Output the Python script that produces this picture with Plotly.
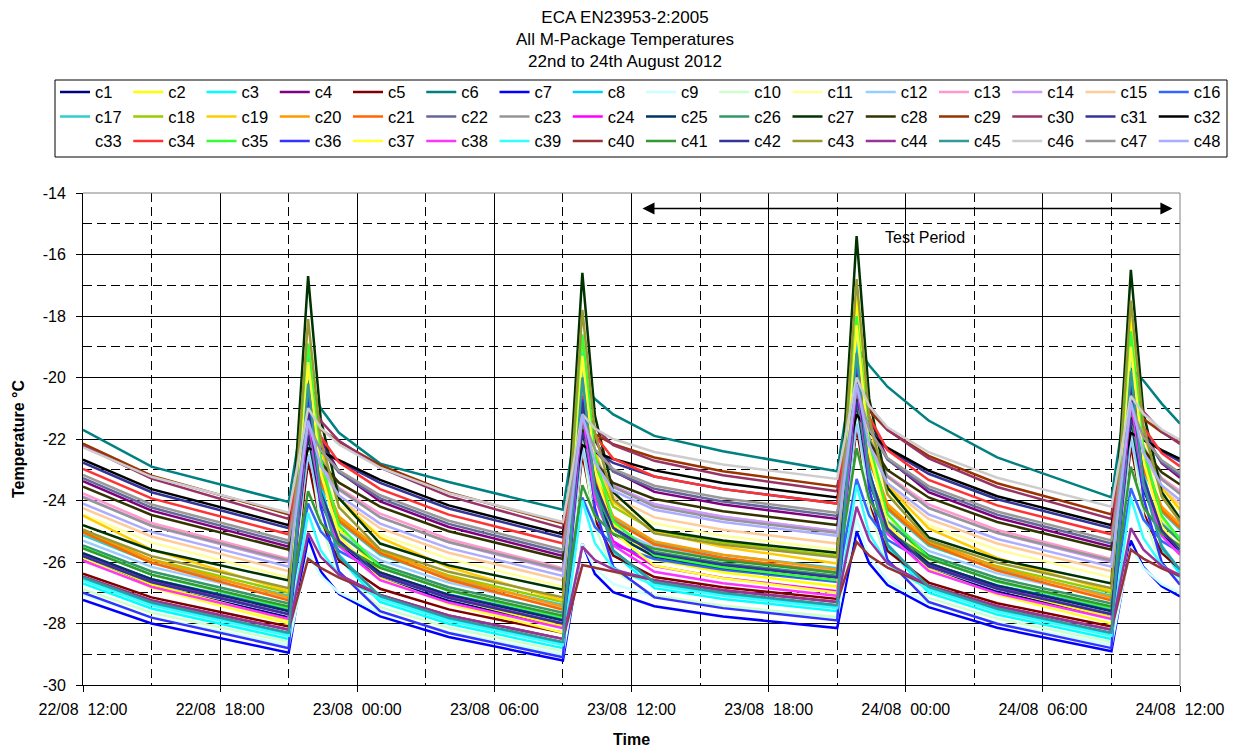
import plotly.graph_objects as go

# ---------------- data ----------------
times = ["2012-08-22 12:00", "2012-08-22 15:00", "2012-08-22 21:00", "2012-08-22 21:51",
         "2012-08-22 22:24", "2012-08-22 23:12", "2012-08-23 01:00", "2012-08-23 04:00",
         "2012-08-23 09:00", "2012-08-23 09:51", "2012-08-23 10:24", "2012-08-23 11:12",
         "2012-08-23 13:00", "2012-08-23 16:00", "2012-08-23 21:00", "2012-08-23 21:51",
         "2012-08-23 22:24", "2012-08-23 23:12", "2012-08-24 01:00", "2012-08-24 04:00",
         "2012-08-24 09:00", "2012-08-24 09:51", "2012-08-24 10:24", "2012-08-24 11:12",
         "2012-08-24 12:00"]

c1 = [-25.91, -26.76, -27.8, -21.2, -23.87, -25.43, -26.54, -27.27, -28.1, -21.0, -23.52, -24.92, -25.72, -26.09, -26.5, -19.8, -23.11, -25.0, -26.24, -26.97, -27.8, -20.5, -23.4, -25.08, -25.71]
c2 = [-25.77, -26.73, -27.9, -18.9, -22.73, -24.92, -26.33, -27.16, -28.1, -18.7, -22.64, -24.78, -25.92, -26.33, -26.8, -17.4, -21.92, -24.47, -26.03, -26.86, -27.8, -18.0, -22.18, -24.55, -25.38]
c3 = [-26.7, -27.51, -28.5, -19.0, -23.41, -25.87, -27.3, -28.01, -28.8, -19.2, -23.43, -25.71, -26.85, -27.2, -27.6, -18.3, -22.94, -25.52, -27.0, -27.71, -28.5, -18.6, -23.07, -25.56, -26.39]
c4 = [-23.37, -24.33, -25.5, -20.4, -22.02, -23.07, -24.03, -24.86, -25.8, -20.3, -22.04, -23.04, -23.72, -24.13, -24.6, -19.1, -21.3, -22.65, -23.73, -24.56, -25.5, -20.2, -21.77, -22.79, -23.26]
c5 = [-26.38, -27.15, -28.1, -22.7, -24.73, -25.95, -26.87, -27.54, -28.3, -22.5, -24.62, -25.79, -26.49, -26.82, -27.2, -21.6, -24.15, -25.64, -26.67, -27.34, -28.1, -22.2, -24.4, -25.71, -26.23]
c6 = [-21.7, -22.9, -24.05, -20.1, -21.0, -21.8, -22.8, -23.4, -24.3, -20.2, -20.7, -21.2, -21.9, -22.4, -23.05, -19.0, -19.6, -20.3, -21.4, -22.6, -23.9, -19.7, -20.1, -20.85, -21.5]
c7 = [-27.23, -28.0, -28.95, -25.2, -26.3, -27.04, -27.77, -28.44, -29.2, -25.4, -26.39, -26.98, -27.44, -27.77, -28.15, -25.0, -26.04, -26.75, -27.47, -28.14, -28.9, -25.3, -26.17, -26.79, -27.12]
c8 = [-26.55, -27.36, -28.35, -19.3, -23.45, -25.77, -27.15, -27.86, -28.65, -19.5, -23.47, -25.62, -26.7, -27.05, -27.45, -18.6, -22.98, -25.42, -26.85, -27.56, -28.35, -19.0, -23.15, -25.47, -26.26]
c9 = [-27.06, -27.8, -28.7, -25.7, -26.45, -27.0, -27.64, -28.28, -29.0, -25.4, -26.21, -26.71, -27.12, -27.44, -27.8, -24.6, -25.82, -26.61, -27.34, -27.98, -28.7, -25.5, -26.2, -26.72, -27.01]
c10 = [-26.88, -27.65, -28.6, -22.0, -24.78, -26.39, -27.47, -28.14, -28.9, -22.2, -24.84, -26.28, -27.09, -27.42, -27.8, -21.2, -24.27, -26.03, -27.17, -27.84, -28.6, -21.8, -24.53, -26.11, -26.69]
c11 = [-24.45, -25.37, -26.5, -21.5, -23.12, -24.16, -25.1, -25.9, -26.8, -21.3, -23.07, -24.08, -24.75, -25.15, -25.6, -20.4, -22.49, -23.77, -24.8, -25.6, -26.5, -21.0, -22.74, -23.84, -24.33]
c12 = [-25.31, -26.16, -27.2, -22.5, -24.07, -25.06, -25.94, -26.67, -27.5, -22.3, -23.95, -24.9, -25.52, -25.89, -26.3, -21.5, -23.47, -24.67, -25.64, -26.37, -27.2, -22.0, -23.68, -24.73, -25.19]
c13 = [-23.77, -24.73, -25.9, -21.8, -22.84, -23.59, -24.43, -25.26, -26.2, -21.7, -22.86, -23.56, -24.12, -24.53, -25.0, -20.6, -22.17, -23.19, -24.13, -24.96, -25.9, -21.3, -22.46, -23.27, -23.69]
c14 = [-23.87, -24.83, -26.0, -21.6, -22.82, -23.66, -24.53, -25.36, -26.3, -21.4, -22.73, -23.52, -24.12, -24.53, -25.0, -20.2, -22.06, -23.23, -24.23, -25.06, -26.0, -21.0, -22.39, -23.32, -23.77]
c15 = [-24.25, -25.17, -26.3, -21.2, -22.88, -23.95, -24.9, -25.7, -26.6, -21.0, -22.83, -23.87, -24.55, -24.95, -25.4, -19.9, -22.16, -23.53, -24.6, -25.4, -26.3, -20.6, -22.46, -23.62, -24.12]
c16 = [-25.75, -26.56, -27.55, -24.1, -25.0, -25.64, -26.35, -27.06, -27.85, -23.9, -24.86, -25.44, -25.9, -26.25, -26.65, -23.3, -24.49, -25.28, -26.05, -26.76, -27.55, -23.6, -24.62, -25.32, -25.68]
c17 = [-25.13, -26.02, -27.1, -20.9, -23.28, -24.7, -25.77, -26.54, -27.4, -20.8, -23.24, -24.6, -25.38, -25.77, -26.2, -19.7, -22.6, -24.29, -25.47, -26.24, -27.1, -20.3, -22.85, -24.36, -24.95]
c18 = [-25.03, -25.92, -27.0, -20.5, -23.05, -24.56, -25.67, -26.44, -27.3, -20.4, -22.84, -24.2, -24.98, -25.37, -25.8, -19.4, -22.42, -24.17, -25.37, -26.14, -27.0, -20.0, -22.67, -24.24, -24.85]
c19 = [-24.49, -25.6, -26.95, -19.7, -22.34, -23.94, -25.21, -26.17, -27.25, -19.4, -22.39, -24.05, -25.03, -25.51, -26.05, -18.3, -21.58, -23.51, -24.91, -25.87, -26.95, -18.9, -21.83, -23.58, -24.29]
c20 = [-24.94, -25.93, -27.15, -21.0, -23.18, -24.52, -25.61, -26.48, -27.45, -20.8, -23.18, -24.52, -25.33, -25.76, -26.25, -19.8, -22.5, -24.11, -25.31, -26.18, -27.15, -20.5, -22.79, -24.2, -24.78]
c21 = [-25.04, -26.03, -27.25, -21.4, -23.4, -24.66, -25.71, -26.58, -27.55, -21.2, -23.4, -24.65, -25.43, -25.86, -26.35, -20.2, -22.72, -24.25, -25.41, -26.28, -27.25, -20.8, -22.98, -24.32, -24.89]
c22 = [-23.27, -24.23, -25.4, -21.3, -22.34, -23.09, -23.93, -24.76, -25.7, -21.2, -22.36, -23.06, -23.62, -24.03, -24.5, -20.0, -21.62, -22.67, -23.63, -24.46, -25.4, -20.7, -21.92, -22.76, -23.19]
c23 = [-23.9, -24.82, -25.95, -21.1, -22.64, -23.63, -24.55, -25.35, -26.25, -21.0, -22.62, -23.56, -24.2, -24.6, -25.05, -19.9, -21.96, -23.22, -24.25, -25.05, -25.95, -20.6, -22.25, -23.31, -23.79]
c24 = [-25.73, -26.62, -27.7, -21.6, -23.92, -25.31, -26.37, -27.14, -28.0, -21.4, -23.92, -25.33, -26.13, -26.52, -26.95, -20.5, -23.28, -24.91, -26.07, -26.84, -27.7, -21.0, -23.49, -24.97, -25.56]
c25 = [-25.71, -26.56, -27.6, -21.9, -24.05, -25.34, -26.34, -27.07, -27.9, -21.7, -23.88, -25.09, -25.82, -26.19, -26.6, -20.8, -23.41, -24.94, -26.04, -26.77, -27.6, -21.4, -23.66, -25.01, -25.55]
c26 = [-25.46, -26.31, -27.35, -21.7, -23.82, -25.09, -26.09, -26.82, -27.65, -21.5, -23.7, -24.93, -25.67, -26.04, -26.45, -20.6, -23.18, -24.7, -25.79, -26.52, -27.35, -21.2, -23.43, -24.77, -25.31]
c27 = [-24.8, -25.61, -26.6, -16.7, -21.34, -23.92, -25.4, -26.11, -26.9, -16.6, -21.24, -23.73, -24.95, -25.3, -25.7, -15.4, -20.68, -23.59, -25.2, -25.91, -26.7, -16.5, -21.14, -23.72, -24.58]
c28 = [-23.55, -24.47, -25.6, -21.9, -22.77, -23.42, -24.2, -25.0, -25.9, -21.7, -22.77, -23.43, -23.95, -24.35, -24.8, -20.7, -22.09, -23.01, -23.9, -24.7, -25.6, -21.3, -22.34, -23.08, -23.48]
c29 = [-22.15, -23.19, -24.45, -21.3, -21.68, -22.09, -22.85, -23.74, -24.75, -21.4, -21.84, -22.17, -22.6, -23.05, -23.55, -20.3, -21.08, -21.71, -22.55, -23.44, -24.45, -20.9, -21.34, -21.78, -22.12]
c30 = [-22.22, -23.29, -24.6, -20.6, -21.41, -22.06, -22.93, -23.86, -24.9, -20.8, -21.64, -22.2, -22.71, -23.18, -23.7, -19.8, -20.9, -21.7, -22.63, -23.56, -24.6, -20.3, -21.11, -21.76, -22.16]
c31 = [-22.77, -23.73, -24.9, -21.9, -22.31, -22.73, -23.43, -24.26, -25.2, -21.8, -22.38, -22.78, -23.22, -23.63, -24.1, -20.8, -21.67, -22.33, -23.13, -23.96, -24.9, -21.4, -21.92, -22.4, -22.73]
c32 = [-22.67, -23.63, -24.8, -22.3, -22.42, -22.69, -23.33, -24.16, -25.1, -22.2, -22.43, -22.65, -23.02, -23.43, -23.9, -21.2, -21.78, -22.29, -23.03, -23.86, -24.8, -21.8, -22.03, -22.36, -22.65]
c33 = [-24.15, -25.07, -26.2, -21.5, -22.95, -23.9, -24.8, -25.6, -26.5, -21.4, -22.94, -23.83, -24.45, -24.85, -25.3, -20.4, -22.31, -23.5, -24.5, -25.3, -26.2, -21.0, -22.57, -23.58, -24.04]
c34 = [-22.97, -23.93, -25.1, -20.7, -21.92, -22.76, -23.63, -24.46, -25.4, -20.6, -21.88, -22.64, -23.22, -23.63, -24.1, -19.6, -21.28, -22.36, -23.33, -24.16, -25.1, -20.4, -21.62, -22.46, -22.89]
c35 = [-25.53, -26.42, -27.5, -18.9, -22.67, -24.81, -26.17, -26.94, -27.8, -18.6, -22.54, -24.68, -25.78, -26.17, -26.6, -18.0, -22.12, -24.44, -25.87, -26.64, -27.5, -18.5, -22.33, -24.5, -25.27]
c36 = [-27.0, -27.81, -28.8, -20.5, -24.21, -26.31, -27.6, -28.31, -29.1, -20.7, -24.24, -26.16, -27.15, -27.5, -27.9, -19.5, -23.62, -25.93, -27.3, -28.01, -28.8, -20.2, -23.91, -26.01, -26.74]
c37 = [-25.87, -26.83, -28.0, -19.5, -23.1, -25.17, -26.53, -27.36, -28.3, -19.3, -23.01, -25.03, -26.12, -26.53, -27.0, -18.3, -22.42, -24.76, -26.23, -27.06, -28.0, -19.0, -22.71, -24.84, -25.61]
c38 = [-25.96, -26.81, -27.85, -21.3, -23.94, -25.48, -26.59, -27.32, -28.15, -21.1, -23.91, -25.46, -26.32, -26.69, -27.1, -20.1, -23.26, -25.08, -26.29, -27.02, -27.85, -20.7, -23.51, -25.15, -25.77]
c39 = [-26.6, -27.41, -28.4, -24.4, -25.62, -26.43, -27.2, -27.91, -28.7, -24.0, -25.39, -26.2, -26.75, -27.1, -27.5, -23.5, -25.07, -26.06, -26.9, -27.61, -28.4, -23.9, -25.23, -26.1, -26.51]
c40 = [-26.48, -27.25, -28.2, -25.9, -26.19, -26.51, -27.07, -27.74, -28.5, -26.1, -26.19, -26.31, -26.59, -26.92, -27.3, -25.35, -25.79, -26.18, -26.77, -27.44, -28.2, -25.6, -25.89, -26.21, -26.46]
c41 = [-25.56, -26.41, -27.45, -23.7, -24.72, -25.42, -26.19, -26.92, -27.75, -23.5, -24.49, -25.09, -25.57, -25.94, -26.35, -22.3, -23.95, -24.99, -25.89, -26.62, -27.45, -22.9, -24.21, -25.06, -25.47]
c42 = [-25.81, -26.66, -27.7, -21.0, -23.73, -25.32, -26.44, -27.17, -28.0, -20.8, -23.44, -24.89, -25.72, -26.09, -26.5, -19.9, -23.09, -24.92, -26.14, -26.87, -27.7, -20.3, -23.26, -24.97, -25.61]
c43 = [-24.96, -25.81, -26.85, -18.1, -22.02, -24.22, -25.59, -26.32, -27.15, -17.8, -21.8, -23.96, -25.07, -25.44, -25.85, -16.8, -21.3, -23.8, -25.29, -26.02, -26.85, -17.5, -21.59, -23.88, -24.68]
c44 = [-26.48, -27.25, -28.2, -25.05, -25.83, -26.41, -27.07, -27.74, -28.5, -25.5, -25.94, -26.24, -26.59, -26.92, -27.3, -24.2, -25.3, -26.04, -26.77, -27.44, -28.2, -24.9, -25.6, -26.13, -26.43]
c45 = [-26.5, -27.31, -28.3, -20.2, -23.8, -25.84, -27.1, -27.81, -28.6, -20.0, -23.65, -25.63, -26.65, -27.0, -27.4, -19.2, -23.2, -25.45, -26.8, -27.51, -28.3, -19.8, -23.45, -25.52, -26.25]
c46 = [-22.27, -23.23, -24.4, -21.0, -21.64, -22.18, -22.93, -23.76, -24.7, -21.2, -21.66, -22.0, -22.42, -22.83, -23.3, -20.0, -20.93, -21.62, -22.43, -23.26, -24.2, -20.6, -21.18, -21.69, -22.03]
c47 = [-23.17, -24.13, -25.3, -21.5, -22.37, -23.03, -23.83, -24.66, -25.6, -21.3, -22.34, -22.98, -23.52, -23.93, -24.4, -20.3, -21.69, -22.62, -23.53, -24.36, -25.3, -20.9, -21.94, -22.69, -23.1]
c48 = [-24.1, -25.02, -26.15, -21.4, -22.88, -23.84, -24.75, -25.55, -26.45, -21.2, -22.77, -23.68, -24.3, -24.7, -25.15, -20.2, -22.2, -23.44, -24.45, -25.25, -26.15, -20.8, -22.45, -23.51, -23.99]

series_names = ["c%d" % i for i in range(1, 49)]
series_values = [c1, c2, c3, c4, c5, c6, c7, c8, c9, c10, c11, c12, c13, c14, c15, c16,
                 c17, c18, c19, c20, c21, c22, c23, c24, c25, c26, c27, c28, c29, c30, c31, c32,
                 c33, c34, c35, c36, c37, c38, c39, c40, c41, c42, c43, c44, c45, c46, c47, c48]

x_tick_vals = ["2012-08-22 12:00", "2012-08-22 18:00", "2012-08-23 00:00", "2012-08-23 06:00",
               "2012-08-23 12:00", "2012-08-23 18:00", "2012-08-24 00:00", "2012-08-24 06:00",
               "2012-08-24 12:00"]
x_tick_text = ["22/08  12:00", "22/08  18:00", "23/08  00:00", "23/08  06:00", "23/08  12:00",
               "23/08  18:00", "24/08  00:00", "24/08  06:00", "24/08  12:00"]
y_tick_vals = [-30, -28, -26, -24, -22, -20, -18, -16, -14]
y_tick_text = ["-30", "-28", "-26", "-24", "-22", "-20", "-18", "-16", "-14"]

title_lines = ["ECA EN23953-2:2005", "All M-Package Temperatures", "22nd to 24th August 2012"]
test_period_start = "2012-08-23 12:25"
test_period_end = "2012-08-24 11:40"

# ---------------- styles ----------------
colors = ["#000080", "#FFFF00", "#00FFFF", "#800080", "#800000", "#008080", "#0000FF", "#00CCFF",
          "#CCFFFF", "#CCFFCC", "#FFFF99", "#99CCFF", "#FF99CC", "#CC99FF", "#FFCC99", "#3366FF",
          "#33CCCC", "#99CC00", "#FFCC00", "#FF9900", "#FF6600", "#666699", "#969696", "#FF00FF",
          "#003366", "#339966", "#003300", "#333300", "#993300", "#993366", "#333399", "#000000",
          "rgba(255,255,255,0)", "#FF3333", "#33FF33", "#3333FF", "#FFFF33", "#FF33FF", "#33FFFF", "#993333",
          "#339933", "#333399", "#999933", "#993399", "#339999", "#CDCDCD", "#999999", "#ADADFF"]

FONT = "Arial, 'Liberation Sans', sans-serif"

fig = go.Figure()
for name, vals, col in zip(series_names, series_values, colors):
    fig.add_trace(go.Scatter(x=times, y=vals, mode="lines", name=name,
                             line=dict(color=col, width=2.5)))

# the page body adds an 8px offset; everything below is given in window pixels
OFF = 8
W, H = 1237 - OFF, 749 - OFF
L, T = 83 - OFF, 193 - OFF
R = W - (1180 - OFF)
B = H - (685 - OFF)
pw, ph = W - L - R, H - T - B


def px_x(p):
    return (p - OFF - L) / pw


def px_y(p):
    return (H - B - (p - OFF)) / ph


fig.update_layout(
    width=W, height=H,
    margin=dict(l=L, r=R, t=T, b=B, autoexpand=False),
    paper_bgcolor="white", plot_bgcolor="white",
    font=dict(family=FONT, size=16, color="black"),
    title=dict(text="<br>".join(title_lines), x=px_x(625), xref="paper", xanchor="center",
               y=1 - 15 / H, yref="container", yanchor="top", font=dict(size=17, color="black")),
    showlegend=True,
    legend=dict(orientation="h", x=px_x(55), xanchor="left", y=px_y(74.8), yanchor="top",
                entrywidth=28.25, entrywidthmode="pixels", itemwidth=30,
                font=dict(size=16.5, color="black"), bgcolor="rgba(0,0,0,0)", borderwidth=0,
                traceorder="normal"),
    xaxis=dict(type="date", range=[times[0], times[-1]], tickmode="array",
               tickvals=x_tick_vals, ticktext=x_tick_text, ticks="outside", ticklen=6,
               tickcolor="black", tickfont=dict(size=16), ticklabelstandoff=4,
               showgrid=True, gridcolor="black",
               gridwidth=1, showline=True, linecolor="black", linewidth=1, zeroline=False,
               minor=dict(tickmode="linear", tick0="2012-08-22 12:00", dtick=10800000,
                          showgrid=True, gridcolor="black", gridwidth=1, griddash="9px,5px",
                          ticks=""),
               title=dict(text="Time", font=dict(size=16, weight="bold"), standoff=16)),
    yaxis=dict(range=[-30, -14], tickmode="array", tickvals=y_tick_vals, ticktext=y_tick_text,
               ticks="outside", ticklen=6, tickcolor="black", tickfont=dict(size=16),
               ticklabelstandoff=7,
               showgrid=True, gridcolor="black", gridwidth=1, showline=True, linecolor="black",
               linewidth=1, zeroline=False,
               minor=dict(tickmode="linear", tick0=-30, dtick=1, showgrid=True,
                          gridcolor="black", gridwidth=1, griddash="9px,5px", ticks=""),
               title=dict(text="Temperature °C", font=dict(size=16, weight="bold"), standoff=14)),
    shapes=[
        dict(type="rect", xref="paper", yref="paper", x0=px_x(55), x1=px_x(1227),
             y0=px_y(157), y1=px_y(80), line=dict(color="black", width=1)),
        dict(type="line", xref="paper", yref="paper", x0=0, x1=1, y0=1, y1=1,
             line=dict(color="#808080", width=1), layer="above"),
        dict(type="line", xref="paper", yref="paper", x0=1, x1=1, y0=0, y1=1,
             line=dict(color="#808080", width=1), layer="above"),
    ],
    annotations=[
        dict(x=test_period_end, y=-14.5, ax=test_period_start, ay=-14.5, xref="x", yref="y",
             axref="x", ayref="y", text="", showarrow=True, arrowhead=2, startarrowhead=2,
             arrowside="end+start", arrowwidth=1.5, arrowsize=1.6, startarrowsize=1.6,
             arrowcolor="black"),
        dict(x="2012-08-24 00:51", y=-15.46, xref="x", yref="y", text="Test Period",
             showarrow=False, font=dict(size=16, color="black")),
    ],
)

fig.write_html("out.html")
